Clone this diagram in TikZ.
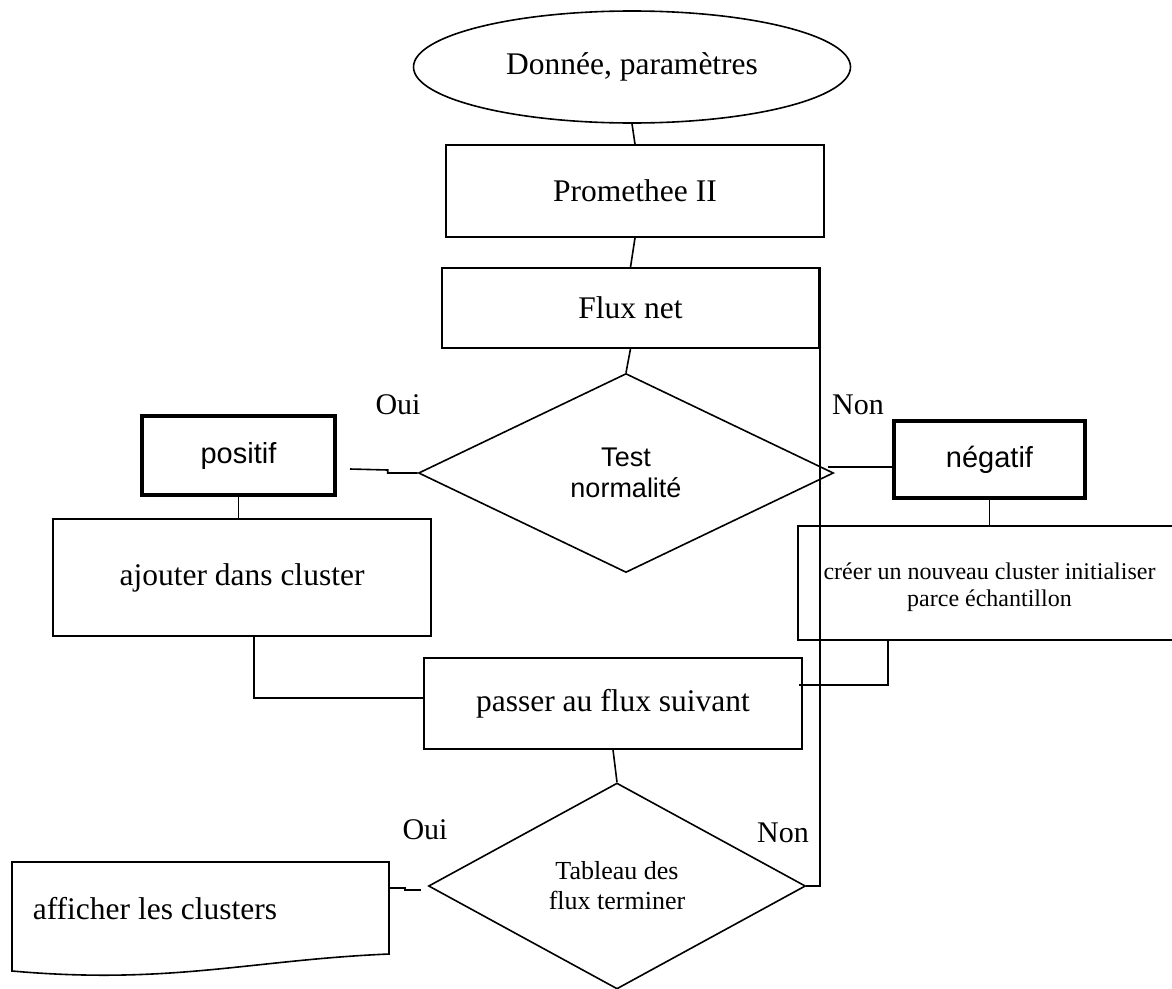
\documentclass[tikz,border=0pt]{standalone}
\usepackage{fontspec}
\setmainfont{Liberation Serif}
\newfontfamily\sansf{Liberation Sans}
\usetikzlibrary{shapes.geometric}

\begin{document}
\begin{tikzpicture}[x=1pt, y=-1pt, line width=1.6pt,
  mainfont/.style={font=\fontsize{31.5}{36}\selectfont},
  box/.style={draw, rectangle, inner sep=0pt, mainfont},
  heavybox/.style={draw, rectangle, line width=4.5pt, inner sep=0pt,
    font=\sansf\fontsize{29}{33}\selectfont},
  decision/.style={draw, diamond, inner sep=0pt, align=center},
  lbl/.style={inner sep=0pt, font=\fontsize{30}{34}\selectfont}]

\fill[white] (0,0) rectangle (1172,988);
\useasboundingbox (0,0) rectangle (1172,988);

% main column
\node[draw, ellipse, minimum width=437, minimum height=112, inner sep=0pt, mainfont]
  (ell) at (632,67) {Donnée, paramètres};
\node[box, minimum width=378, minimum height=92] (prom) at (635,191) {Promethee II};
\node[box, minimum width=377, minimum height=80] (flux) at (630.5,308) {Flux net};
\node[decision, minimum width=415, minimum height=199,
  font=\sansf\fontsize{27}{31}\selectfont] (d1) at (626,473) {Test\\normalité};

% branches of the first test
\node[heavybox, minimum width=193, minimum height=79] (pos) at (238.5,455.5) {positif};
\node[heavybox, minimum width=191, minimum height=77] (neg) at (989.5,459.5) {négatif};
\node[box, minimum width=378, minimum height=117] (ajout) at (242,577.5) {ajouter dans cluster};
\node[rectangle, inner sep=0pt, minimum width=381, minimum height=112, align=center,
  font=\fontsize{24}{27}\selectfont] (creer) at (989.5,583)
  {\rule{0pt}{25pt}créer un nouveau cluster initialiser\\parce échantillon};
\draw (creer.north east) -- (creer.north west) -- (creer.south west) -- (creer.south east);

% loop
\node[box, minimum width=378, minimum height=91] (pass) at (613,703.5) {passer au flux suivant};
\node[decision, minimum width=377, minimum height=206,
  font=\fontsize{26}{30}\selectfont] (d2) at (617,886) {Tableau des\\flux terminer};

% output document
\node[anchor=base west, inner sep=0pt, mainfont] (aff) at (32,919) {afficher les clusters};
\draw (12,971) -- (12,862) -- (389,862) -- (389,954)
  .. controls (250,960) and (170,985) .. (12,971) -- cycle;
\coordinate (affE) at (389,888);

% labels
\node[lbl] (oui1) at (398,405) {Oui};
\node[lbl] (non1) at (858,405) {Non};
\node[lbl] (oui2) at (425,830) {Oui};
\node[lbl] (non2) at (783,833) {Non};

% connectors
\draw (ell.south) -- (prom.north);
\draw (prom.south) -- (flux.north);
\draw (flux.south) -- (d1.north);
\coordinate (posIn) at (350,469);
\draw (d1.west) -- ++(-30,0) -- ++(0,-3) -- (posIn);
\draw (d1.east) ++(-6,-6) coordinate (negOut) -- (negOut -| neg.west);
\draw (neg.south) -- (neg.south |- creer.north);
\draw (pos.south) -- (pos.south |- ajout.north);
\coordinate (j1) at (254,698);
\draw (ajout.south -| j1) |- (pass.west |- j1);
\coordinate (j2) at (888,685);
\draw (creer.south -| j2) |- ([xshift=-4pt]pass.east |- j2);
\draw (pass.south) -- (d2.north);
\draw (d2.east) -| (flux.north east);
\draw (d2.west) ++(-7,4) -- ++(-16,0) -- ++(0,-2) -- (affE);

\end{tikzpicture}
\end{document}
